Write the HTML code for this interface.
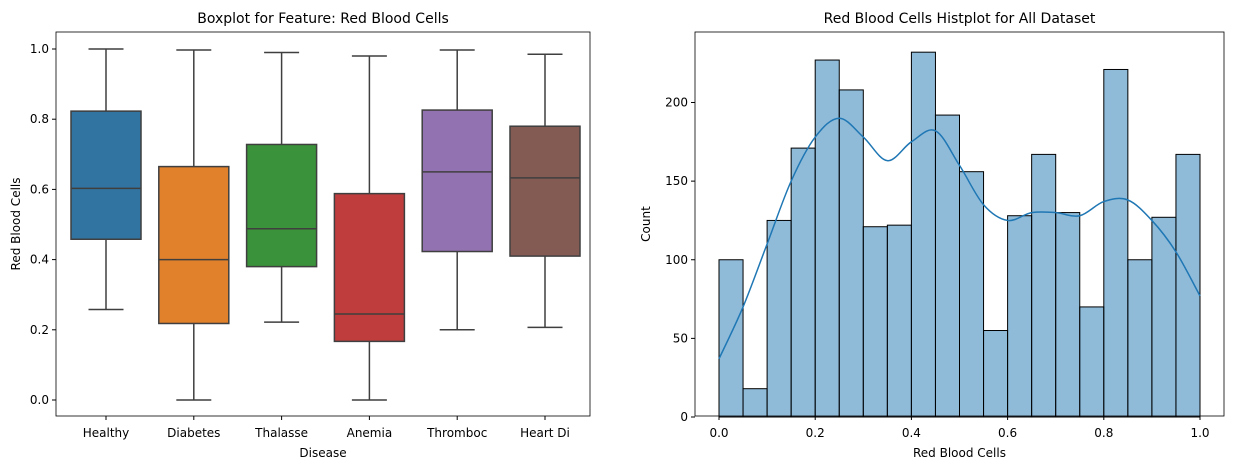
<!DOCTYPE html>
<html><head><meta charset="utf-8"><style>
body{margin:0;background:#fff;font-family:"Liberation Sans","DejaVu Sans",sans-serif}
svg text{font-family:"DejaVu Sans","Liberation Sans",sans-serif;font-size:12px;fill:#000}
</style></head><body>
<svg id="c" width="1233" height="470" xmlns="http://www.w3.org/2000/svg"></svg>
<script>
const boxCategories=["Healthy","Diabetes","Thalasse","Anemia","Thromboc","Heart Di"];
const boxMin=[0.258,0.0,0.222,0.0,0.20,0.207];
const boxQ1=[0.458,0.218,0.38,0.167,0.423,0.41];
const boxMedian=[0.603,0.40,0.488,0.245,0.65,0.633];
const boxQ3=[0.823,0.665,0.728,0.588,0.826,0.78];
const boxMax=[1.0,0.997,0.99,0.98,0.997,0.985];
const boxColors=["#3274a1","#e1812c","#3a923a","#c03d3e","#9372b2","#845b53"];
const leftYTicks=[0.0,0.2,0.4,0.6,0.8,1.0];
const histCounts=[100,18,125,171,227,208,121,122,232,192,156,55,128,167,130,70,221,100,127,167];
const kdeX=[0,0.05,0.1,0.15,0.2,0.25,0.3,0.35,0.4,0.45,0.5,0.55,0.6,0.65,0.7,0.75,0.8,0.85,0.9,0.95,1.0];
const kdeY=[37,70,110,150,178,190,178,163,175,182,160,135,125,130,130,128,137,138,125,105,77];
const rightXTicks=[0.0,0.2,0.4,0.6,0.8,1.0];
const rightYTicks=[0,50,100,150,200];

const S=document.getElementById('c');const NS="http://www.w3.org/2000/svg";
function mk(t,a,txt){const e=document.createElementNS(NS,t);for(const k in a)e.setAttribute(k,a[k]);if(txt!==undefined)e.textContent=txt;S.appendChild(e);return e;}
// left
const L={x0:56,x1:590,y0:32,y1:416};
const ly=v=>400-v*351;
const lx=i=>106+i*87.8;
let e;
leftYTicks.forEach(v=>{e=mk('line',{x1:L.x0-4,x2:L.x0,y1:ly(v),y2:ly(v),stroke:'#000'});

e=mk('text',{x:L.x0-7,y:ly(v)+4,'text-anchor':'end'},v.toFixed(1));
});
boxCategories.forEach((c,i)=>{const cx=lx(i),w=70,st='#3f3f3f';
e=mk('line',{x1:cx,x2:cx,y1:ly(boxQ3[i]),y2:ly(boxMax[i]),stroke:st,'stroke-width':1.5});

e=mk('line',{x1:cx,x2:cx,y1:ly(boxQ1[i]),y2:ly(boxMin[i]),stroke:st,'stroke-width':1.5});

e=mk('line',{x1:cx-w/4,x2:cx+w/4,y1:ly(boxMax[i]),y2:ly(boxMax[i]),stroke:st,'stroke-width':1.5});

e=mk('line',{x1:cx-w/4,x2:cx+w/4,y1:ly(boxMin[i]),y2:ly(boxMin[i]),stroke:st,'stroke-width':1.5});

e=mk('rect',{x:cx-w/2,y:ly(boxQ3[i]),width:w,height:ly(boxQ1[i])-ly(boxQ3[i]),fill:boxColors[i],stroke:st,'stroke-width':1.5});

e=mk('line',{x1:cx-w/2,x2:cx+w/2,y1:ly(boxMedian[i]),y2:ly(boxMedian[i]),stroke:st,'stroke-width':1.5});

e=mk('line',{x1:cx,x2:cx,y1:L.y1,y2:L.y1+4,stroke:'#000'});

e=mk('text',{x:cx,y:L.y1+21,'text-anchor':'middle'},c);
});
e=mk('rect',{x:L.x0,y:L.y0,width:L.x1-L.x0,height:L.y1-L.y0,fill:'none',stroke:'#000','stroke-width':0.8});

e=mk('text',{x:(L.x0+L.x1)/2,y:23,'text-anchor':'middle',style:'font-size:14px'},'Boxplot for Feature: Red Blood Cells');

e=mk('text',{x:(L.x0+L.x1)/2,y:457,'text-anchor':'middle'},'Disease');

e=mk('text',{x:20,y:224,'text-anchor':'middle',transform:'rotate(-90 20 224)'},'Red Blood Cells');

// right
const R={x0:695,x1:1224,y0:32,y1:416};
const rx=v=>719+v*481;
const ry=v=>417-v*1.5725;
rightYTicks.forEach(v=>{e=mk('line',{x1:R.x0-4,x2:R.x0,y1:ry(v),y2:ry(v),stroke:'#000'});

e=mk('text',{x:R.x0-7,y:ry(v)+4,'text-anchor':'end'},String(v));
});
rightXTicks.forEach(v=>{e=mk('line',{x1:rx(v),x2:rx(v),y1:R.y1,y2:R.y1+4,stroke:'#000'});

e=mk('text',{x:rx(v),y:R.y1+21,'text-anchor':'middle'},v.toFixed(1));
});
const bw=1/histCounts.length;
histCounts.forEach((c,i)=>{e=mk('rect',{x:rx(i*bw),y:ry(c),width:rx((i+1)*bw)-rx(i*bw),height:ry(0)-ry(c),fill:'rgba(31,119,180,0.5)',stroke:'#000','stroke-width':1});
});
// smooth kde via catmull-rom
const pts=kdeX.map((x,i)=>[rx(x),ry(kdeY[i])]);
let d='M'+pts[0][0]+','+pts[0][1];
for(let i=0;i<pts.length-1;i++){const p0=pts[Math.max(0,i-1)],p1=pts[i],p2=pts[i+1],p3=pts[Math.min(pts.length-1,i+2)];
d+=' C'+(p1[0]+(p2[0]-p0[0])/6)+','+(p1[1]+(p2[1]-p0[1])/6)+' '+(p2[0]-(p3[0]-p1[0])/6)+','+(p2[1]-(p3[1]-p1[1])/6)+' '+p2[0]+','+p2[1];}
e=mk('path',{d:d,fill:'none',stroke:'#1f77b4','stroke-width':1.5});

e=mk('rect',{x:R.x0,y:R.y0,width:R.x1-R.x0,height:R.y1-R.y0,fill:'none',stroke:'#000','stroke-width':0.8});

e=mk('text',{x:(R.x0+R.x1)/2,y:23,'text-anchor':'middle',style:'font-size:14px'},'Red Blood Cells Histplot for All Dataset');

e=mk('text',{x:(R.x0+R.x1)/2,y:457,'text-anchor':'middle'},'Red Blood Cells');

e=mk('text',{x:650,y:224,'text-anchor':'middle',transform:'rotate(-90 650 224)'},'Count');

</script>
</body></html>
